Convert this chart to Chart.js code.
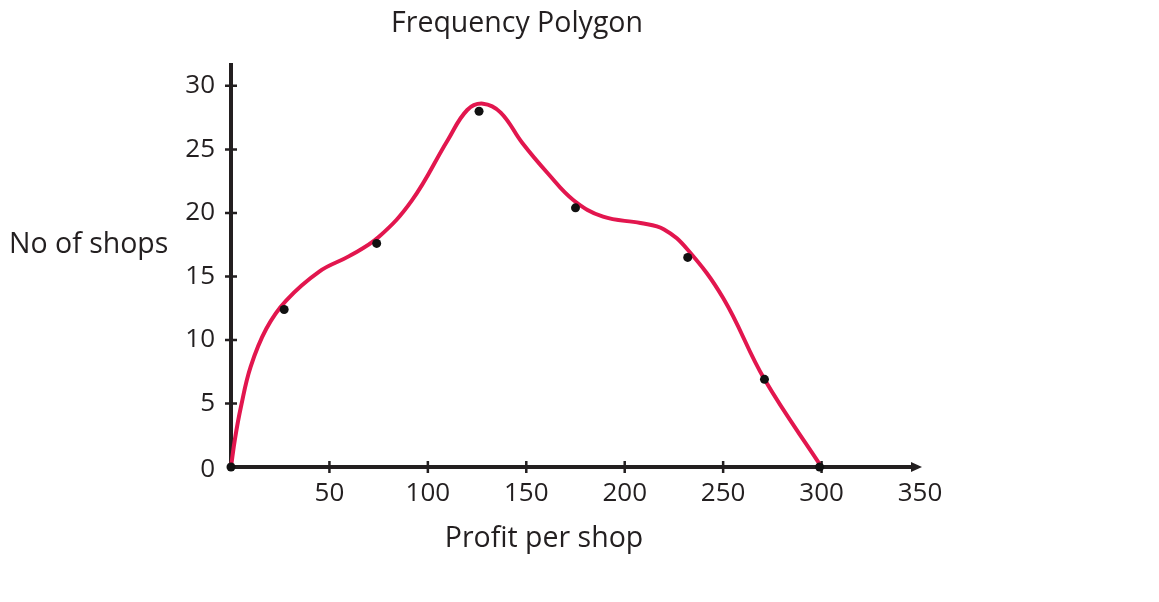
<!DOCTYPE html>
<html>
<head>
<meta charset="utf-8">
<script src="https://cdn.jsdelivr.net/npm/chart.js@4.4.1/dist/chart.umd.min.js"></script>
<style>
  html, body { margin: 0; padding: 0; background: #fff; }
  #wrap { width: 1159px; height: 602px; }
</style>
</head>
<body>
<div id="wrap"><canvas id="poligono" width="1159" height="602"></canvas></div>
<script>
/* ==== DATOS ==== */
// puntos negros (marca de clase, frecuencia)
const puntosX = [0, 27, 74, 126, 175, 232, 271, 299];
const puntosY = [0, 12.4, 17.6, 28, 20.4, 16.5, 6.9, 0];

// trazo de la curva roja (no pasa justo por los puntos)
const curvaX = [0, 2, 5, 10, 18, 28, 45, 60, 75, 92, 110, 120, 128, 137, 148, 161, 174, 189, 208, 220, 232, 250, 271, 300];
const curvaY = [0, 2.2, 4.7, 7.9, 10.9, 13.1, 15.4, 16.6, 18.1, 21, 25.7, 28.1, 28.6, 27.9, 25.5, 23.1, 21, 19.7, 19.2, 18.7, 17.1, 13.3, 6.9, 0];

const ticksX = [50, 100, 150, 200, 250, 300, 350];
const ticksY = [0, 5, 10, 15, 20, 25, 30];

const tinta = "#231f20";
const rojo = "#e2164e";
const fuente = "'Open Sans', 'Noto Sans', sans-serif";

// Ejes con marcas cruzadas y flecha al final del eje X
const ejes = {
  id: "ejes",
  beforeDatasetsDraw(chart) {
    const ctx = chart.ctx;
    const sx = chart.scales.x, sy = chart.scales.y;
    const x0 = sx.getPixelForValue(0), y0 = sy.getPixelForValue(0);
    const xFin = sx.getPixelForValue(350), yFin = sy.getPixelForValue(sy.max);
    ctx.save();
    ctx.strokeStyle = tinta;
    ctx.fillStyle = tinta;
    ctx.lineWidth = 4;
    ctx.beginPath();
    ctx.moveTo(x0, yFin);
    ctx.lineTo(x0, y0 + 2);
    ctx.moveTo(x0 - 2, y0);
    ctx.lineTo(xFin - 6, y0);
    ctx.stroke();
    // flecha
    ctx.beginPath();
    ctx.moveTo(xFin + 2, y0);
    ctx.lineTo(xFin - 9, y0 - 5);
    ctx.lineTo(xFin - 9, y0 + 5);
    ctx.closePath();
    ctx.fill();
    // marcas
    ctx.lineWidth = 2.5;
    ctx.beginPath();
    ticksX.slice(0, -1).forEach(v => {
      const px = sx.getPixelForValue(v);
      ctx.moveTo(px, y0 - 6);
      ctx.lineTo(px, y0 + 6);
    });
    ticksY.slice(1).forEach(v => {
      const py = sy.getPixelForValue(v);
      ctx.moveTo(x0 - 6, py);
      ctx.lineTo(x0 + 6, py);
    });
    ctx.stroke();
    ctx.restore();
  },
  afterDraw(chart) {
    const ctx = chart.ctx;
    const sx = chart.scales.x, sy = chart.scales.y;
    const x0 = sx.getPixelForValue(0), y0 = sy.getPixelForValue(0);
    ctx.save();
    ctx.fillStyle = tinta;
    ctx.textBaseline = "middle";
    ctx.font = "26px " + fuente;
    ctx.textAlign = "center";
    ticksX.forEach(v => ctx.fillText(String(v), sx.getPixelForValue(v), y0 + 27));
    ctx.textAlign = "right";
    ticksY.forEach(v => ctx.fillText(String(v), x0 - 16, sy.getPixelForValue(v) + (v === 0 ? 3 : 0)));
    // títulos
    ctx.font = "28.5px " + fuente;
    ctx.textAlign = "center";
    ctx.fillText("Frequency Polygon", 517, 24);
    ctx.fillText("Profit per shop", 544, 539);
    ctx.textAlign = "left";
    ctx.fillText("No of shops", 9, 245);
    ctx.restore();
  }
};

new Chart(document.getElementById("poligono"), {
  type: "line",
  data: {
    datasets: [
      {
        label: "Curva",
        data: curvaX.map((x, i) => ({ x: x, y: curvaY[i] })),
        borderColor: rojo,
        borderWidth: 4,
        pointRadius: 0,
        tension: 0.4,
        clip: false,
        order: 2
      },
      {
        label: "Frecuencia",
        data: puntosX.map((x, i) => ({ x: x, y: puntosY[i] })),
        showLine: false,
        pointRadius: 4.5,
        pointBackgroundColor: "#111",
        pointBorderWidth: 0,
        clip: false,
        order: 1
      }
    ]
  },
  options: {
    responsive: false,
    animation: false,
    layout: { padding: { left: 231, right: 239, top: 63, bottom: 135 } },
    plugins: {
      legend: { display: false },
      tooltip: { enabled: false }
    },
    scales: {
      x: { type: "linear", min: 0, max: 350, display: false },
      y: { type: "linear", min: 0, max: 31.8, display: false }
    }
  },
  plugins: [ejes]
});
</script>
</body>
</html>
